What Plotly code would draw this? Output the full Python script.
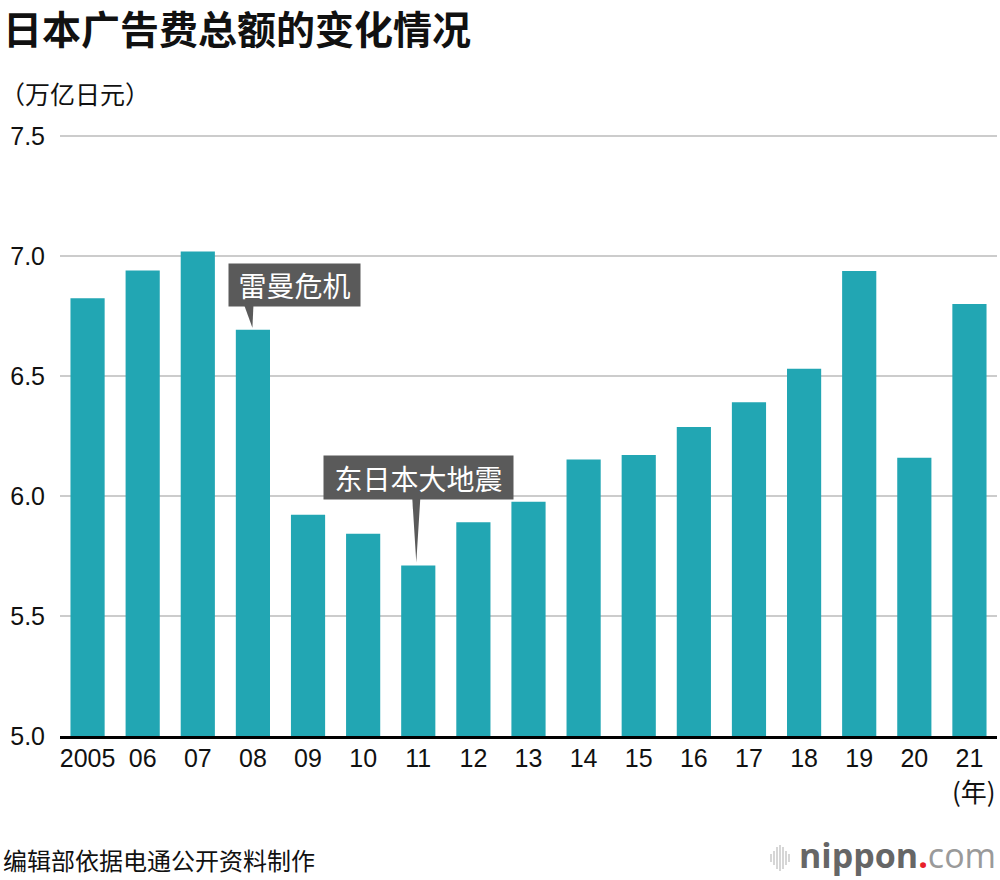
import plotly.graph_objects as go

years = ["2005", "06", "07", "08", "09", "10", "11", "12", "13", "14", "15", "16", "17", "18", "19", "20", "21"]
values = [6.824, 6.940, 7.019, 6.693, 5.922, 5.843, 5.710, 5.891, 5.976, 6.152, 6.171, 6.288, 6.391, 6.530, 6.938, 6.159, 6.800]
y_ticks = [5.0, 5.5, 6.0, 6.5, 7.0, 7.5]
events = [("雷曼危机", "08"), ("东日本大地震", "11")]

W, H = 1000, 880
L, R, T, B = 60, 3, 134, 144
PW, PH = W - L - R, H - T - B
Y0 = 5.0
Y1 = Y0 + PH / 240.0

def px(x):
    return (x - L) / PW

def py(y):
    return (H - B - y) / PH

CJK = "Noto Sans CJK SC"
NUM = "Liberation Sans, Noto Sans CJK SC"
teal = "#22a6b3"
boxc = "#5a5a5a"

idx = list(range(len(years)))
fig = go.Figure(go.Bar(x=idx, y=values, width=0.62, marker=dict(color=teal, line=dict(width=0)),
                       hoverinfo="skip"))

fig.update_layout(
    width=W, height=H, margin=dict(l=L, r=R, t=T, b=B),
    plot_bgcolor="white", paper_bgcolor="white", showlegend=False,
    bargap=0.38,
)
fig.update_xaxes(range=[-0.5, len(years) - 0.5], tickvals=idx, ticktext=years, showgrid=False,
                 zeroline=False, showline=True, linecolor="black", linewidth=3, ticks="",
                 tickfont=dict(family=NUM, size=25, color="#111"), ticklabelstandoff=-2)
fig.update_yaxes(range=[Y0, Y1], tickvals=y_ticks, ticktext=[f"{v:.1f}" for v in y_ticks],
                 showgrid=True, gridcolor="#cccccc", gridwidth=2, zeroline=False, ticks="",
                 tickfont=dict(family=NUM, size=25, color="#111"), ticklabelstandoff=14)

ann = []
ann.append(dict(text="<b>日本广告费总额的变化情况</b>", xref="paper", yref="paper", x=px(1), y=py(27),
                xanchor="left", yanchor="middle", showarrow=False,
                font=dict(family=CJK, size=39, color="#111")))
ann.append(dict(text="（万亿日元）", xref="paper", yref="paper", x=px(-2), y=py(93),
                xanchor="left", yanchor="middle", showarrow=False,
                font=dict(family=CJK, size=25, color="#111")))
ann.append(dict(text="(年)", xref="paper", yref="paper", x=px(998), y=py(790),
                xanchor="right", yanchor="middle", showarrow=False,
                font=dict(family=CJK, size=26, color="#111")))
ann.append(dict(text="编辑部依据电通公开资料制作", xref="paper", yref="paper", x=px(1), y=py(859),
                xanchor="left", yanchor="middle", showarrow=False,
                font=dict(family=CJK, size=24, color="#111")))
ann.append(dict(text="<b>nippon</b><span style='color:#e8202a'><b>.</b></span><span style='color:#9a9a9a'>com</span>",
                xref="paper", yref="paper", x=px(998), y=py(855),
                xanchor="right", yanchor="middle", showarrow=False,
                font=dict(family="Open Sans", size=34, color="#666666")))

specs = {"08": dict(xs=42, ys=45, w=131, h=42, tri=[(-8.5, 24), (0.5, 24), (-0.5, 2)]),
         "11": dict(xs=0.5, ys=88.5, w=189, h=43, tri=[(-6, 67), (2, 67), (-2, 3)])}
shapes = []
for label, yr in events:
    i = years.index(yr)
    v = values[i]
    s = specs[yr]
    ann.append(dict(text=label, x=i, y=v, xref="x", yref="y", xshift=s["xs"], yshift=s["ys"],
                    showarrow=False, bgcolor=boxc, width=s["w"], height=s["h"],
                    xanchor="center", yanchor="middle", borderpad=0,
                    font=dict(family=CJK, size=28, color="white")))
    p = s["tri"]
    path = f"M{p[0][0]},{p[0][1]} L{p[1][0]},{p[1][1]} L{p[2][0]},{p[2][1]} Z"
    shapes.append(dict(type="path", xref="x", yref="y", xsizemode="pixel", ysizemode="pixel",
                       xanchor=i, yanchor=v, path=path, fillcolor=boxc, line=dict(width=0)))

bar_h = [8, 14, 22, 26, 22, 14, 8]
for k, hh in enumerate(bar_h):
    xx = 771 + k * 3
    shapes.append(dict(type="line", xref="paper", yref="paper", x0=px(xx), x1=px(xx),
                       y0=py(858 - hh / 2), y1=py(858 + hh / 2),
                       line=dict(color="#c8c8c8", width=1.5)))

fig.update_layout(annotations=ann, shapes=shapes)
fig.write_html("out.html", config={"displayModeBar": False},
               post_script="document.body.style.margin='0';document.body.style.overflow='hidden';")
